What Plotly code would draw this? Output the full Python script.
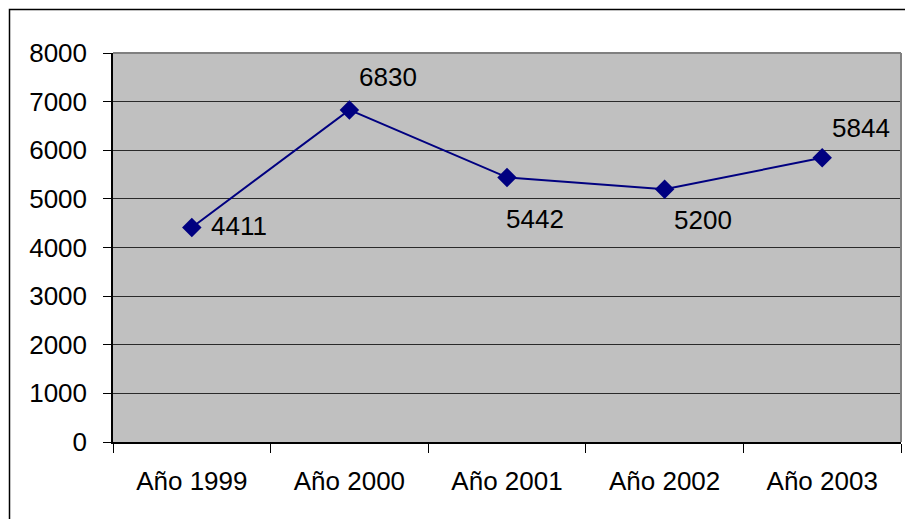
import plotly.graph_objects as go

categories = ["Año 1999", "Año 2000", "Año 2001", "Año 2002", "Año 2003"]
values = [4411, 6830, 5442, 5200, 5844]
label_shift_x = [47, 39, 28, 38, 39]
label_shift_y = [2, 33, -42, -31, 30]
y_ticks = [0, 1000, 2000, 3000, 4000, 5000, 6000, 7000, 8000]

OFF = 8  # page body margin
W, H = 913 - OFF, 519 - OFF
L, R, T, B = 113 - OFF, 12, 53 - OFF, 77
pw, ph = W - L - R, H - T - B

font = dict(family="Liberation Sans, Arial", size=26, color="black")

fig = go.Figure()
fig.add_trace(go.Scatter(
    x=categories, y=values, mode="lines+markers",
    line=dict(color="#000080", width=2),
    marker=dict(symbol="diamond", size=15, color="#000080"),
    hoverinfo="x+y", showlegend=False,
))

for c, v, dx, dy in zip(categories, values, label_shift_x, label_shift_y):
    fig.add_annotation(x=c, y=v, text=str(v), showarrow=False,
                       xshift=dx, yshift=dy, font=font)

fig.update_layout(
    width=W, height=H,
    margin=dict(l=L, r=R, t=T, b=B, pad=0),
    paper_bgcolor="white", plot_bgcolor="#C0C0C0",
    font=font,
    xaxis=dict(type="category", tickson="boundaries", ticks="outside", ticklen=9,
               tickcolor="black", tickwidth=1, showgrid=False,
               showline=True, linecolor="black", linewidth=1.5,
               tickfont=font, ticklabelstandoff=15, range=[-0.5, 4.5], fixedrange=True),
    yaxis=dict(range=[0, 8000], tickvals=y_ticks, ticks="outside", ticklen=8,
               tickcolor="black", tickwidth=1, showgrid=True, gridcolor="#2a2a2a",
               gridwidth=1, zeroline=False, showline=True, linecolor="black",
               linewidth=1.5, tickfont=font, ticklabelstandoff=11, fixedrange=True),
)

# plot-area top/right border (gray)
fig.add_shape(type="line", xref="paper", yref="paper", x0=0, x1=1, y0=1, y1=1,
              line=dict(color="#808080", width=2), layer="above")
fig.add_shape(type="line", xref="paper", yref="paper", x0=1, x1=1, y0=0, y1=1,
              line=dict(color="#808080", width=2), layer="above")

# outer chart frame
fx0 = (9.5 - OFF - L) / pw
fy1 = (T + ph - (9.5 - OFF)) / ph
fig.add_shape(type="rect", xref="paper", yref="paper",
              x0=fx0, x1=1.2, y0=-0.5, y1=fy1,
              line=dict(color="black", width=1.5), fillcolor="rgba(0,0,0,0)", layer="above")

fig.write_html("out.html")
